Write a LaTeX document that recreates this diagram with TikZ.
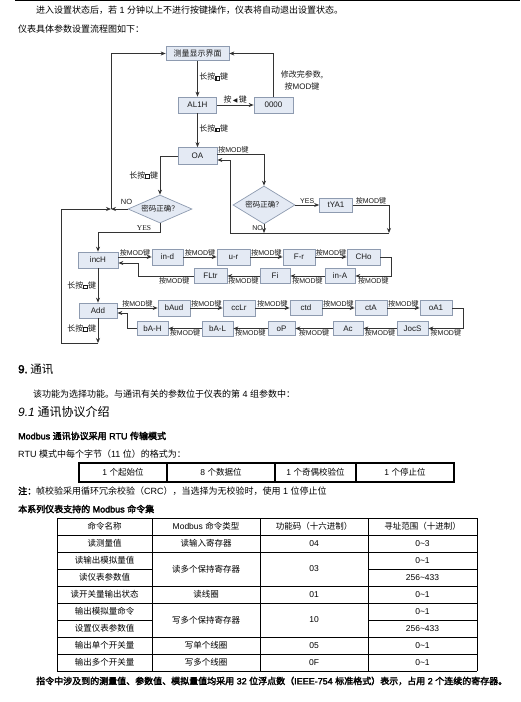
\documentclass[tikz,border=0pt]{standalone}
\usepackage{fontspec}
\setmainfont[AutoFakeBold=2.5]{Noto Sans CJK SC}
\newfontfamily\lat[AutoFakeBold=2.5]{Liberation Sans}
\newfontfamily\ser{Liberation Serif}
\newfontfamily\sym{DejaVu Sans}
\usetikzlibrary{arrows.meta,shapes.geometric}
\definecolor{boxf}{HTML}{E4EAF4}
\definecolor{boxb}{HTML}{8E9BB0}
\definecolor{ln}{HTML}{333333}
\definecolor{txt}{HTML}{1A1A1A}
\newcommand\fs[1]{\fontsize{#1}{#1}\selectfont}
\newcommand\keysq{\raisebox{0.2pt}{\setlength{\fboxsep}{0pt}\setlength{\fboxrule}{1.1pt}\fbox{\rule{0pt}{2.6pt}\hspace{2.6pt}}}}
\newcommand\anmod{按{\lat MOD}键}
\begin{document}
\begin{tikzpicture}[x=1pt,y=-1pt,
  box/.style={draw=boxb, fill=boxf, line width=0.7pt, inner sep=0pt, minimum height=15pt, font=\lat\fs{8}, text=txt},
  dia/.style={diamond, aspect=2, draw=boxb, fill=boxf, line width=0.7pt, inner sep=0pt, font=\fs{7.5}, text=txt},
  lbl/.style={font=\fs{7}, inner sep=0.8pt, text=txt},
  lk/.style={font=\fs{8}, inner sep=1.5pt, text=txt},
  conn/.style={draw=ln, line width=0.8pt},
  arr/.style={conn, -{Stealth[length=5pt,width=4pt]}},
  tb/.style={draw=black, line width=0.9pt},
  body/.style={font=\fs{9}, inner sep=0pt, anchor=west, text=black},
  cell/.style={font=\fs{8.5}, inner sep=0pt, text=black}]
\useasboundingbox (0,0) rectangle (520,702);
\fill[white] (0,0) rectangle (520,702);
\draw[black, line width=0.8pt] (15,0.5) -- (520,0.5);

% ---- top text
\node[body] (t1) at (36,10) {进入设置状态后，若{\lat\ 1 }分钟以上不进行按键操作，仪表将自动退出设置状态。};
\node[body] (t2) at (18,29) {仪表具体参数设置流程图如下：};

% ---- flowchart nodes
\node[box, minimum width=63pt, minimum height=14pt, font=\fs{8}] (meas) at (197.5,53.5) {测量显示界面};
\node[box, minimum width=38pt, minimum height=16pt] (al1h) at (197.5,105) {AL1H};
\node[box, minimum width=39pt, minimum height=16pt] (z0) at (273.5,105) {0000};
\node[box, minimum width=39pt, minimum height=17pt] (oa) at (197.5,156) {OA};
\node[dia, minimum width=64pt, minimum height=28pt] (d1) at (160,209) {密码正确？};
\node[dia, minimum width=62pt, minimum height=38pt] (d2) at (264,205) {密码正确？};
\node[box, minimum width=33pt, minimum height=14pt] (tya) at (336,205) {tYA1};

\node[box, minimum width=40pt, minimum height=16pt] (inch) at (98,260) {incH};
\node[box, minimum width=31pt, minimum height=16pt] (ind) at (167.5,257) {in-d};
\node[box, minimum width=33pt, minimum height=16pt] (ur) at (233.5,257) {u-r};
\node[box, minimum width=32pt, minimum height=16pt] (fr) at (299,257) {F-r};
\node[box, minimum width=33pt, minimum height=16pt] (cho) at (363.5,257) {CHo};
\node[box, minimum width=30pt, minimum height=15pt] (ina) at (340,276) {in-A};
\node[box, minimum width=30pt, minimum height=15pt] (fi) at (275,276) {Fi};
\node[box, minimum width=33pt, minimum height=15pt] (fltr) at (210.5,276) {FLtr};

\node[box, minimum width=38pt, minimum height=15pt] (add) at (98,310.5) {Add};
\node[box, minimum width=32pt, minimum height=16pt] (baud) at (174,308) {bAud};
\node[box, minimum width=32pt, minimum height=16pt] (cclr) at (239,308) {ccLr};
\node[box, minimum width=32pt, minimum height=15pt] (ctd) at (306,308) {ctd};
\node[box, minimum width=32pt, minimum height=15pt] (cta) at (371,308) {ctA};
\node[box, minimum width=32pt, minimum height=15pt] (oa1) at (436,308) {oA1};
\node[box, minimum width=31pt, minimum height=14pt] (jocs) at (412.5,328.5) {JocS};
\node[box, minimum width=30pt, minimum height=14pt] (ac) at (348,328.5) {Ac};
\node[box, minimum width=27pt, minimum height=14pt] (op) at (281.5,328.5) {oP};
\node[box, minimum width=31pt, minimum height=15pt] (bal) at (217.5,328.5) {bA-L};
\node[box, minimum width=31pt, minimum height=14pt] (bah) at (152.5,328.5) {bA-H};

\coordinate (j1) at (111,209);
\coordinate (c1) at (389,233);
\coordinate (c2) at (230,233);
\coordinate (c3) at (98,343);

% ---- flowchart connectors
\draw[arr] (meas) -- node[lk, right, pos=0.45]{长按\keysq 键} (al1h);
\draw[arr] (al1h) -- node[lk, right, pos=0.45]{长按\keysq 键} (oa);
\draw[arr] (al1h) -- node[lk, above, inner sep=1pt]{按\,{\sym\fs{6}◀}\,键} (z0);
\draw[arr] (z0.north) |- (meas.east);
\node[lk, align=center] (modtxt) at (302,80.5) {修改完参数,\\[2pt]\anmod};

\draw[arr] (oa.west) -| node[lk, left, pos=0.75]{长按\keysq 键} (d1.north);
\draw[arr] ([yshift=2pt]oa.east) -| (d2.north);
\node[lbl, anchor=south west] (lmod1) at ([yshift=2pt]oa.east) {\anmod};
\draw[arr] (d2.east) -- node[lbl, above, font=\lat\fs{7}]{YES} (tya.west);
\draw[arr] (tya.east) -- node[lbl, above]{\anmod} (tya.east -| c1) -- (c1);
\draw[arr] (d2.south) -- node[lbl, left, font=\lat\fs{7}, pos=0.45]{NO} (d2.south |- c1);
\draw[arr] (c1) -- (c2) |- ([yshift=-4pt]oa.east);

\draw[arr] (d1.west) -- (j1);
\node[lbl, font=\lat\fs{7.5}] (nol) at (126.5,202) {NO};
\draw[arr] (j1) |- (meas.west);
\draw[arr] (d1.south) -- (d1.south |- 0,232) -| (inch.north);
\node[lbl, font=\ser\fs{7.5}] (yesl) at (144,228) {YES};

\draw[arr] (inch) -- node[lk, left]{长按\keysq 键} (add);
\draw[arr] (add.south) -- node[lk, left, pos=0.4]{长按\keysq 键} (c3);
\draw[arr] (c3) -- (61,343) |- (j1);

\draw[arr] ([yshift=3pt]inch.east) -- node[lbl, above]{\anmod} (ind.west);
\draw[arr] (ind) -- node[lbl, above]{\anmod} (ur);
\draw[arr] (ur) -- node[lbl, above]{\anmod} (fr);
\draw[arr] (fr) -- node[lbl, above]{\anmod} (cho);
\draw[arr] (cho.east) -- ++(11,0) |- node[lbl, below, pos=0.75]{\anmod} (ina.east);
\draw[arr] (ina) -- node[lbl, below]{\anmod} (fi);
\draw[arr] (fi) -- node[lbl, below]{\anmod} (fltr);
\draw[arr] (fltr.west) -- node[lbl, below, pos=0.35]{\anmod} (138,276) |- ([yshift=-3pt]inch.east);

\draw[arr] ([yshift=2.5pt]add.east) -- node[lbl, above]{\anmod} (baud.west);
\draw[arr] (baud) -- node[lbl, above]{\anmod} (cclr);
\draw[arr] (cclr) -- node[lbl, above]{\anmod} (ctd);
\draw[arr] (ctd) -- node[lbl, above]{\anmod} (cta);
\draw[arr] (cta) -- node[lbl, above]{\anmod} (oa1);
\draw[arr] (oa1.east) -- ++(11,0) |- node[lbl, below, pos=0.75]{\anmod} (jocs.east);
\draw[arr] (jocs) -- node[lbl, below]{\anmod} (ac);
\draw[arr] (ac) -- node[lbl, below]{\anmod} (op);
\draw[arr] (op) -- node[lbl, below]{\anmod} (bal);
\draw[arr] (bal) -- node[lbl, below]{\anmod} (bah);
\draw[arr] (bah.west) -- (127,328.5) |- ([yshift=-2.5pt]add.east);

% ---- section 9
\node[body, font=\fs{11.5}] (h9) at (18,369) {{\lat\bfseries 9.}\ 通讯};
\node[body] (p9) at (33,394) {该功能为选择功能。与通讯有关的参数位于仪表的第{\lat\ 4 }组参数中：};
\node[body, font=\fs{12}] (h91) at (18,412) {{\lat\bfseries\itshape 9.1}\ 通讯协议介绍};
\node[body, font=\fs{9}\bfseries] (mb) at (18,436) {{\lat Modbus }通讯协议采用{\lat\ RTU }传输模式};
\node[body] (rtu) at (18,454) {{\lat RTU }模式中每个字节（{\lat 11 }位）的格式为：};

% ---- table 1
\draw[black, line width=1.1pt] (79,463) rectangle (454,482);
\foreach \x in {167,275,356} \draw[black, line width=1.1pt] (\x,463) -- (\x,482);
\node[cell] (a1) at (123,472.5) {{\lat 1 }个起始位};
\node[cell] (a2) at (221,472.5) {{\lat 8 }个数据位};
\node[cell] (a3) at (315.5,472.5) {{\lat 1 }个奇偶校验位};
\node[cell] (a4) at (405,472.5) {{\lat 1 }个停止位};

\node[body] (note) at (18,491) {{\bfseries 注：}帧校验采用循环冗余校验（{\lat CRC}），当选择为无校验时，使用{\lat\ 1 }位停止位};
\node[body, font=\fs{9}\bfseries] (cmdset) at (18,509) {本系列仪表支持的{\lat\ Modbus }命令集};

% ---- table 2
\foreach \y in {518,535,552,586,603,637,654,671} \draw[tb] (57,\y) -- (477,\y);
\foreach \y in {569,620} {\draw[tb] (57,\y) -- (152,\y); \draw[tb] (368,\y) -- (477,\y);}
\foreach \x in {57,152,260,368,477} \draw[tb] (\x,518) -- (\x,671);

\node[cell] (h1) at (104.5,526.5) {命令名称};
\node[cell] (h2) at (206,526.5) {{\lat Modbus }命令类型};
\node[cell] (h3) at (314,526.5) {功能码（十六进制）};
\node[cell] (h4) at (422.5,526.5) {寻址范围（十进制）};

\node[cell] (r11) at (104.5,543.5) {读测量值};
\node[cell] (r12) at (206,543.5) {读输入寄存器};
\node[cell, font=\lat\fs{8.5}] (r13) at (314,543.5) {04};
\node[cell, font=\lat\fs{8.5}] (r14) at (422.5,543.5) {0\textasciitilde3};

\node[cell] (r21) at (104.5,560.5) {读输出模拟量值};
\node[cell] (r31) at (104.5,577.5) {读仪表参数值};
\node[cell] (r22) at (206,569) {读多个保持寄存器};
\node[cell, font=\lat\fs{8.5}] (r23) at (314,569) {03};
\node[cell, font=\lat\fs{8.5}] (r24) at (422.5,560.5) {0\textasciitilde1};
\node[cell, font=\lat\fs{8.5}] (r34) at (422.5,577.5) {256\textasciitilde433};

\node[cell] (r41) at (104.5,594.5) {读开关量输出状态};
\node[cell] (r42) at (206,594.5) {读线圈};
\node[cell, font=\lat\fs{8.5}] (r43) at (314,594.5) {01};
\node[cell, font=\lat\fs{8.5}] (r44) at (422.5,594.5) {0\textasciitilde1};

\node[cell] (r51) at (104.5,611.5) {输出模拟量命令};
\node[cell] (r61) at (104.5,628.5) {设置仪表参数值};
\node[cell] (r52) at (206,620) {写多个保持寄存器};
\node[cell, font=\lat\fs{8.5}] (r53) at (314,620) {10};
\node[cell, font=\lat\fs{8.5}] (r54) at (422.5,611.5) {0\textasciitilde1};
\node[cell, font=\lat\fs{8.5}] (r64) at (422.5,628.5) {256\textasciitilde433};

\node[cell] (r71) at (104.5,645.5) {输出单个开关量};
\node[cell] (r72) at (206,645.5) {写单个线圈};
\node[cell, font=\lat\fs{8.5}] (r73) at (314,645.5) {05};
\node[cell, font=\lat\fs{8.5}] (r74) at (422.5,645.5) {0\textasciitilde1};

\node[cell] (r81) at (104.5,662.5) {输出多个开关量};
\node[cell] (r82) at (206,662.5) {写多个线圈};
\node[cell, font=\lat\fs{8.5}] (r83) at (314,662.5) {0F};
\node[cell, font=\lat\fs{8.5}] (r84) at (422.5,662.5) {0\textasciitilde1};

\node[body, font=\fs{9}\bfseries] (foot) at (36,681) {指令中涉及到的测量值、参数值、模拟量值均采用{\lat\ 32 }位浮点数（{\lat IEEE-754 }标准格式）表示，占用{\lat\ 2 }个连续的寄存器。};
\end{tikzpicture}
\end{document}
